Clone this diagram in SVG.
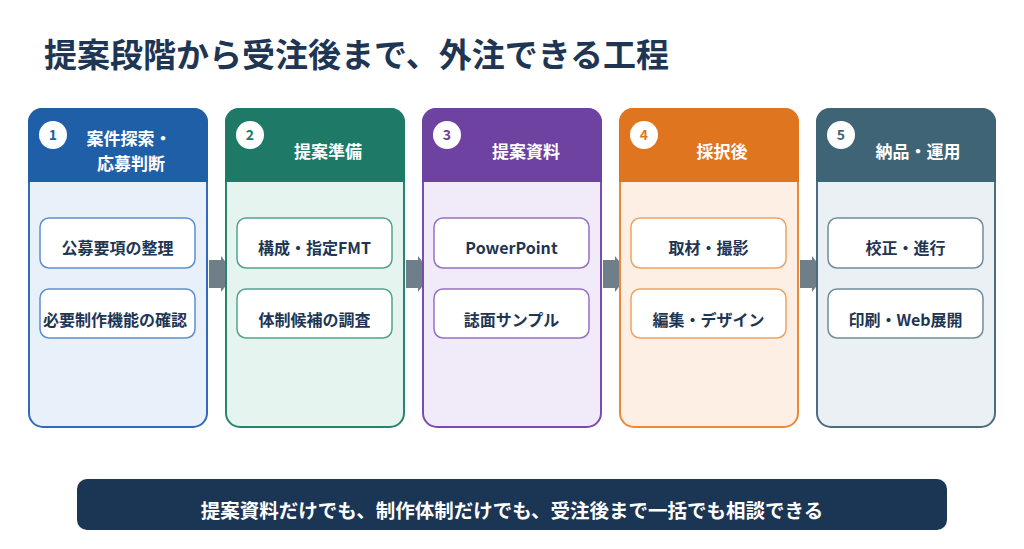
<svg xmlns="http://www.w3.org/2000/svg" width="1024" height="549" viewBox="0 0 1024 549">
<style>
text{font-family:"Noto Sans CJK JP","Noto Sans",sans-serif;font-weight:700;text-anchor:middle}
.title{font-size:33px;fill:#1e3553;text-anchor:start}
.head{font-size:17px;fill:#ffffff}
.num{font-size:14px}
.item{font-size:16px;fill:#1e3553}
.banner{font-size:19.5px;fill:#ffffff}
.sub{fill:#ffffff;stroke-width:1.5}
.arrow{fill:#6e7f89}
</style>
<rect width="1024" height="549" fill="#ffffff"/>
<text class="title" x="44" y="67">提案段階から受注後まで、外注できる工程</text>

<g id="connectors">
<path class="arrow" d="M209 260 H221 V256 L235 274 L221 292 V288 H209 Z"/>
<path class="arrow" d="M406 260 H418 V256 L432 274 L418 292 V288 H406 Z"/>
<path class="arrow" d="M603 260 H615 V256 L629 274 L615 292 V288 H603 Z"/>
<path class="arrow" d="M800 260 H812 V256 L826 274 L812 292 V288 H800 Z"/>
</g>

<g id="card1">
<rect x="29" y="109" width="178" height="318" rx="14" fill="#e8f0fa" stroke="#2f6bbd" stroke-width="2"/>
<path d="M28 182 V122 A14 14 0 0 1 42 108 H194 A14 14 0 0 1 208 122 V182 Z" fill="#1f5fa8"/>
<circle cx="53" cy="135" r="14" fill="#ffffff"/>
<text class="num" x="53" y="140" fill="#1f5fa8">1</text>
<text class="head" x="129" y="145">案件探索・</text>
<text class="head" x="131" y="170">応募判断</text>
<rect class="sub" x="40" y="218" width="155" height="50" rx="9" stroke="#5c8fd2"/>
<text class="item" x="117.5" y="254">公募要項の整理</text>
<rect class="sub" x="40" y="289" width="155" height="49" rx="9" stroke="#5c8fd2"/>
<text class="item" x="115" y="326">必要制作機能の確認</text>
</g>

<g id="card2">
<rect x="226" y="109" width="178" height="318" rx="14" fill="#e6f4ef" stroke="#268470" stroke-width="2"/>
<path d="M225 182 V122 A14 14 0 0 1 239 108 H391 A14 14 0 0 1 405 122 V182 Z" fill="#1e7a66"/>
<circle cx="250" cy="135" r="14" fill="#ffffff"/>
<text class="num" x="250" y="140" fill="#1e7a66">2</text>
<text class="head" x="328" y="157.5">提案準備</text>
<rect class="sub" x="237" y="218" width="155" height="50" rx="9" stroke="#4fa48f"/>
<text class="item" x="314.5" y="254">構成・指定FMT</text>
<rect class="sub" x="237" y="289" width="155" height="49" rx="9" stroke="#4fa48f"/>
<text class="item" x="314.5" y="326">体制候補の調査</text>
</g>

<g id="card3">
<rect x="423" y="109" width="178" height="318" rx="14" fill="#f1eaf8" stroke="#7a4cb0" stroke-width="2"/>
<path d="M422 182 V122 A14 14 0 0 1 436 108 H588 A14 14 0 0 1 602 122 V182 Z" fill="#6e42a0"/>
<circle cx="447" cy="135" r="14" fill="#ffffff"/>
<text class="num" x="447" y="140" fill="#6e42a0">3</text>
<text class="head" x="526" y="157.5">提案資料</text>
<rect class="sub" x="434" y="218" width="155" height="50" rx="9" stroke="#9570c4"/>
<text class="item" x="511.5" y="254">PowerPoint</text>
<rect class="sub" x="434" y="289" width="155" height="49" rx="9" stroke="#9570c4"/>
<text class="item" x="511.5" y="326">誌面サンプル</text>
</g>

<g id="card4">
<rect x="620" y="109" width="178" height="318" rx="14" fill="#fdefe3" stroke="#ec8836" stroke-width="2"/>
<path d="M619 182 V122 A14 14 0 0 1 633 108 H785 A14 14 0 0 1 799 122 V182 Z" fill="#e07520"/>
<circle cx="644" cy="135" r="14" fill="#ffffff"/>
<text class="num" x="644" y="140" fill="#e07520">4</text>
<text class="head" x="722" y="157.5">採択後</text>
<rect class="sub" x="631" y="218" width="155" height="50" rx="9" stroke="#f0a263"/>
<text class="item" x="708.5" y="254">取材・撮影</text>
<rect class="sub" x="631" y="289" width="155" height="49" rx="9" stroke="#f0a263"/>
<text class="item" x="708.5" y="326">編集・デザイン</text>
</g>

<g id="card5">
<rect x="817" y="109" width="178" height="318" rx="14" fill="#eaf0f3" stroke="#4b6d7e" stroke-width="2"/>
<path d="M816 182 V122 A14 14 0 0 1 830 108 H982 A14 14 0 0 1 996 122 V182 Z" fill="#3f6476"/>
<circle cx="841" cy="135" r="14" fill="#ffffff"/>
<text class="num" x="841" y="140" fill="#3f6476">5</text>
<text class="head" x="918" y="157.5">納品・運用</text>
<rect class="sub" x="828" y="218" width="155" height="50" rx="9" stroke="#6f8d9b"/>
<text class="item" x="905.5" y="254">校正・進行</text>
<rect class="sub" x="828" y="289" width="155" height="49" rx="9" stroke="#6f8d9b"/>
<text class="item" x="905.5" y="326">印刷・Web展開</text>
</g>

<g id="banner">
<rect x="77" y="479" width="870" height="51" rx="10" fill="#1b3554"/>
<text class="banner" x="512" y="518">提案資料だけでも、制作体制だけでも、受注後まで一括でも相談できる</text>
</g>
</svg>
